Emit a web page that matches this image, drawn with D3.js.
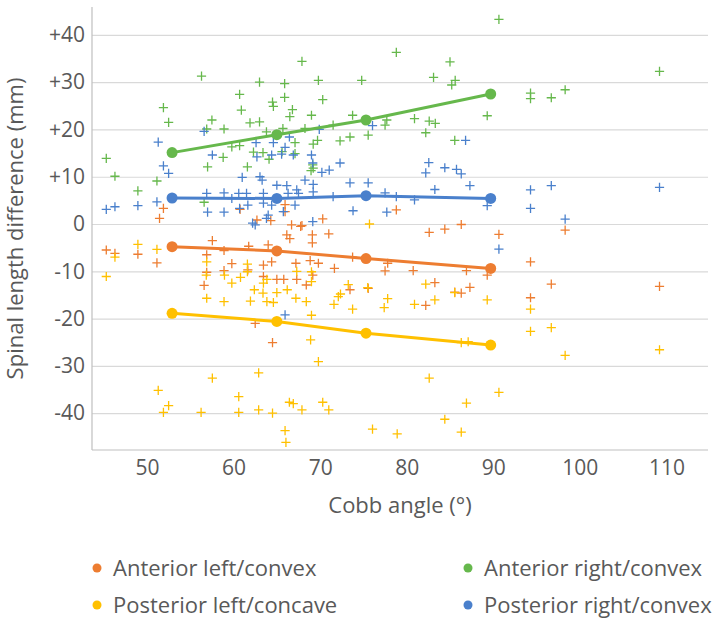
<!DOCTYPE html>
<html>
<head>
<meta charset="utf-8">
<script src="https://cdn.jsdelivr.net/npm/d3@7"></script>
<style>
  html, body { margin: 0; padding: 0; background: #ffffff; }
  svg text { font-family: "Open Sans", "Noto Sans", sans-serif; fill: #595959; }
</style>
</head>
<body>
<svg id="chart" width="717" height="620"></svg>
<script>
// Cobb angle (°) vs spinal length difference (mm), one point per patient
const anteriorLeft = [
  [45.3,-5.5],[46.3,-6.2],[48.95,-6.4],[51.15,-8.2],[51.45,1.2],[51.9,3.3],[56.9,-6.5],[56.9,-10.2],
  [56.6,-13.0],[57.55,-3.5],[58.9,-9.85],[58.9,-5.6],[59.8,-8.4],[60.75,3.1],[61.75,-4.7],[61.65,-9.7],
  [62.5,-21.0],[62.7,0.85],[63.45,-8.7],[63.45,-11.1],[64.0,-4.4],[64.3,0.7],[64.4,-8.0],[64.5,-25.1],
  [65.0,-11.7],[65.8,-11.7],[65.95,4.1],[65.95,2.6],[66.15,-2.3],[66.5,-3.1],[66.7,-0.2],[67.2,-8.3],
  [67.3,-11.7],[67.75,-0.5],[67.9,-0.35],[68.4,-12.9],[68.85,-7.75],[69.1,-2.3],[69.1,-4.0],[69.15,-10.8],
  [69.8,-8.3],[70.3,1.1],[71.0,-2.1],[71.65,-9.4],[73.45,-13.9],[73.75,-7.0],[75.55,-13.6],[77.5,-9.9],
  [77.8,-8.3],[78.8,3.0],[80.75,-9.85],[82.2,-17.2],[82.6,-1.75],[83.25,-12.4],[84.4,-1.1],[85.55,-14.4],
  [86.3,-14.6],[86.3,-0.1],[86.9,-9.85],[87.3,-13.4],[89.3,-10.8],[90.65,-2.2],[94.3,-8.0],[94.3,-15.6],
  [96.7,-12.7],[98.3,-1.3],[109.2,-13.2]
];
const posteriorLeft = [
  [45.3,-11.1],[46.3,-7.0],[48.95,-4.3],[51.15,-5.35],[51.3,-35.2],[52.5,-38.4],[51.9,-39.85],[56.25,-39.85],
  [57.55,-32.6],[56.9,-8.0],[56.85,-10.8],[56.9,-15.7],[58.95,-10.8],[58.9,-16.4],[59.8,-12.5],[60.6,-39.85],
  [60.6,-36.5],[60.8,-11.3],[61.6,-8.5],[61.6,-10.1],[61.95,-16.3],[62.4,-13.9],[62.9,-31.5],[62.9,-39.3],
  [63.45,-12.5],[63.85,-11.7],[63.4,-14.6],[63.85,-16.4],[64.6,-16.6],[65.0,-14.5],[64.5,-40.0],[65.95,-43.7],
  [66.05,-46.2],[66.2,-13.9],[66.45,-37.7],[66.9,-38.0],[67.2,-15.7],[67.3,-10.0],[67.9,-39.3],[68.4,-16.4],
  [69.0,-10.1],[69.0,-12.2],[69.0,-19.3],[68.9,-24.5],[69.8,-29.1],[70.3,-37.7],[71.0,-39.3],[71.6,-17.0],
  [72.1,-15.35],[72.35,-14.8],[73.25,-12.8],[73.75,-18.0],[75.5,-13.45],[75.7,0.0],[76.05,-43.4],[77.8,-15.8],
  [77.4,-17.7],[78.9,-44.4],[80.9,-17.0],[82.2,-12.7],[82.6,-32.6],[83.25,-16.05],[84.4,-41.3],[85.55,-14.5],
  [86.3,-44.0],[86.3,-25.1],[87.1,-24.9],[86.9,-37.9],[89.3,-16.05],[90.65,-35.6],[94.3,-18.0],[94.3,-22.7],
  [96.7,-21.9],[98.3,-27.8],[109.2,-26.6]
];
const anteriorRight = [
  [45.3,13.9],[46.3,10.1],[48.95,7.0],[51.15,9.1],[51.9,24.6],[52.5,21.5],[56.3,31.3],[57.5,22.0],
  [56.9,20.1],[58.9,20.1],[57.0,12.1],[58.8,14.1],[56.6,4.6],[59.8,16.3],[60.7,16.6],[60.7,27.4],
  [60.9,24.1],[61.6,12.1],[62.3,15.2],[61.9,21.4],[63.0,21.6],[63.0,30.0],[63.4,15.1],[64.1,13.7],
  [63.8,19.5],[64.5,25.8],[64.6,24.9],[65.9,29.7],[65.9,26.8],[65.7,20.2],[65.6,15.3],[66.5,22.7],
  [66.8,24.2],[67.1,17.2],[67.1,14.9],[67.9,34.4],[68.25,20.2],[69.0,23.0],[69.2,16.9],[69.7,17.7],
  [69.15,12.5],[69.2,11.8],[68.95,11.3],[69.8,30.4],[70.3,26.3],[71.5,20.9],[72.3,17.6],[73.45,18.4],
  [73.75,23.0],[74.8,30.4],[75.55,18.8],[77.7,22.0],[77.5,20.9],[78.8,36.3],[80.9,22.3],[82.2,19.3],
  [82.6,21.75],[83.3,21.3],[83.1,31.0],[85.0,34.3],[85.6,30.4],[85.2,29.4],[85.55,17.7],[89.3,22.9],
  [90.65,43.3],[94.3,27.7],[94.3,26.5],[96.7,26.7],[98.3,28.4],[109.2,32.3]
];
const posteriorRight = [
  [45.3,3.1],[46.3,3.65],[48.95,3.9],[51.15,4.7],[51.3,17.3],[51.9,12.3],[52.5,10.7],[56.6,19.6],
  [57.55,14.6],[56.9,6.5],[57.0,2.5],[58.9,2.5],[58.9,6.6],[59.8,5.4],[60.6,6.5],[61.0,9.85],
  [62.6,17.2],[61.5,6.5],[61.65,4.0],[60.7,3.3],[62.2,0.2],[62.5,-0.2],[62.7,14.2],[63.05,10.0],
  [63.3,9.3],[63.45,6.5],[63.45,4.4],[63.8,1.2],[64.0,1.9],[64.4,14.6],[64.4,4.0],[64.6,17.2],
  [65.0,8.2],[65.55,14.8],[65.75,2.6],[65.95,16.2],[66.45,18.4],[66.15,8.1],[66.3,6.5],[66.9,14.6],
  [67.1,4.0],[67.3,7.2],[67.5,6.5],[68.25,9.3],[69.0,14.6],[69.15,12.9],[69.2,8.4],[69.2,6.8],
  [69.15,0.5],[69.9,20.0],[70.2,10.9],[71.05,11.4],[71.5,5.8],[72.3,12.9],[73.45,8.7],[73.8,2.8],
  [75.55,8.7],[76.05,20.8],[77.5,6.6],[77.7,2.5],[78.8,5.8],[80.9,5.1],[82.2,10.8],[82.55,13.0],
  [83.25,7.3],[84.4,11.9],[85.75,11.55],[86.3,10.6],[86.8,17.7],[87.3,8.1],[89.3,3.9],[90.65,-5.3],
  [94.3,7.2],[94.3,3.3],[96.7,8.1],[98.3,1.05],[109.2,7.75],[65.95,-19.2]
];

// Group means drawn as trend lines
const trendX = [52.9, 65.0, 75.3, 89.7];
const trendAnteriorLeft = [-4.8, -5.7, -7.3, -9.4];
const trendPosteriorLeft = [-18.9, -20.6, -23.1, -25.6];
const trendAnteriorRight = [15.1, 18.9, 22.0, 27.5];
const trendPosteriorRight = [5.5, 5.4, 6.0, 5.4];

const xTicks = [50, 60, 70, 80, 90, 100, 110];
const yTicks = [-40, -30, -20, -10, 0, 10, 20, 30, 40];

const seriesNames = ["Anterior left/convex", "Posterior left/concave", "Anterior right/convex", "Posterior right/convex"];
const seriesColors = ["#ED7D31", "#FFC000", "#66B84C", "#4A80CC"];

const series = [
  { name: seriesNames[0], color: seriesColors[0], points: anteriorLeft, trend: trendAnteriorLeft },
  { name: seriesNames[1], color: seriesColors[1], points: posteriorLeft, trend: trendPosteriorLeft },
  { name: seriesNames[2], color: seriesColors[2], points: anteriorRight, trend: trendAnteriorRight },
  { name: seriesNames[3], color: seriesColors[3], points: posteriorRight, trend: trendPosteriorRight }
];

const svg = d3.select("#chart");
const plot = { left: 92, right: 708, top: 7, bottom: 450 };
const tickFont = 21;
const titleFont = 22;

const x = d3.scaleLinear().domain([43.65, 114.8]).range([plot.left, plot.right]);
const y = d3.scaleLinear().domain([-47.8, 45.9]).range([plot.bottom, plot.top]);

// Horizontal gridlines
const grid = svg.append("g")
  .attr("transform", `translate(${plot.left},0)`)
  .call(d3.axisLeft(y).tickValues(yTicks).tickSize(-(plot.right - plot.left)).tickFormat(""));
grid.select(".domain").remove();
grid.selectAll("line").attr("stroke", "#d9d9d9").attr("stroke-width", 1.2);

// Axis lines
svg.append("line")
  .attr("x1", plot.left).attr("x2", plot.left)
  .attr("y1", plot.top).attr("y2", plot.bottom)
  .attr("stroke", "#bfbfbf").attr("stroke-width", 1.2);
svg.append("line")
  .attr("x1", plot.left).attr("x2", plot.right)
  .attr("y1", plot.bottom).attr("y2", plot.bottom)
  .attr("stroke", "#bfbfbf").attr("stroke-width", 1.2);

// Y tick labels
const yAxis = svg.append("g")
  .attr("transform", `translate(${plot.left},0)`)
  .call(d3.axisLeft(y).tickValues(yTicks).tickSize(0).tickPadding(7)
    .tickFormat(d => d > 0 ? "+" + d : String(d)));
yAxis.select(".domain").remove();
yAxis.selectAll("text").attr("font-size", tickFont).attr("fill", "#595959")
  .style("font-family", '"Open Sans", sans-serif');

// X tick labels
const xAxis = svg.append("g")
  .attr("transform", `translate(0,${plot.bottom})`)
  .call(d3.axisBottom(x).tickValues(xTicks).tickSize(0).tickPadding(10));
xAxis.select(".domain").remove();
xAxis.selectAll("text").attr("font-size", tickFont).attr("fill", "#595959")
  .style("font-family", '"Open Sans", sans-serif');

// Axis titles
svg.append("text")
  .attr("x", (plot.left + plot.right) / 2).attr("y", 513)
  .attr("text-anchor", "middle").attr("font-size", titleFont)
  .text("Cobb angle (°)");
svg.append("text")
  .attr("transform", `translate(23,${(plot.top + plot.bottom) / 2}) rotate(-90)`)
  .attr("text-anchor", "middle").attr("font-size", titleFont)
  .text("Spinal length difference (mm)");

// Scatter of '+' markers
const arm = 4.6;
series.forEach(s => {
  const g = svg.append("g").attr("stroke", s.color).attr("stroke-width", 1.3).attr("fill", "none");
  g.selectAll("path").data(s.points).join("path")
    .attr("d", d => {
      const cx = x(d[0]), cy = y(d[1]);
      return `M${cx - arm},${cy}H${cx + arm}M${cx},${cy - arm}V${cy + arm}`;
    });
});

// Trend lines with group-mean markers
const line = d3.line().x((d, i) => x(trendX[i])).y(d => y(d));
series.forEach(s => {
  svg.append("path").datum(s.trend)
    .attr("d", line).attr("fill", "none")
    .attr("stroke", s.color).attr("stroke-width", 3).attr("stroke-linecap", "round");
  svg.append("g").selectAll("circle").data(s.trend).join("circle")
    .attr("cx", (d, i) => x(trendX[i])).attr("cy", d => y(d))
    .attr("r", 5.5).attr("fill", s.color);
});

// Legend
const legendItems = [
  { s: series[0], lx: 97, ly: 568 },
  { s: series[2], lx: 468, ly: 568 },
  { s: series[1], lx: 97, ly: 605 },
  { s: series[3], lx: 468, ly: 605 }
];
const legend = svg.append("g");
legendItems.forEach(item => {
  legend.append("circle").attr("cx", item.lx).attr("cy", item.ly).attr("r", 4.5).attr("fill", item.s.color);
  legend.append("text").attr("x", item.lx + 16).attr("y", item.ly + 8)
    .attr("font-size", titleFont).text(item.s.name);
});
</script>
</body>
</html>
